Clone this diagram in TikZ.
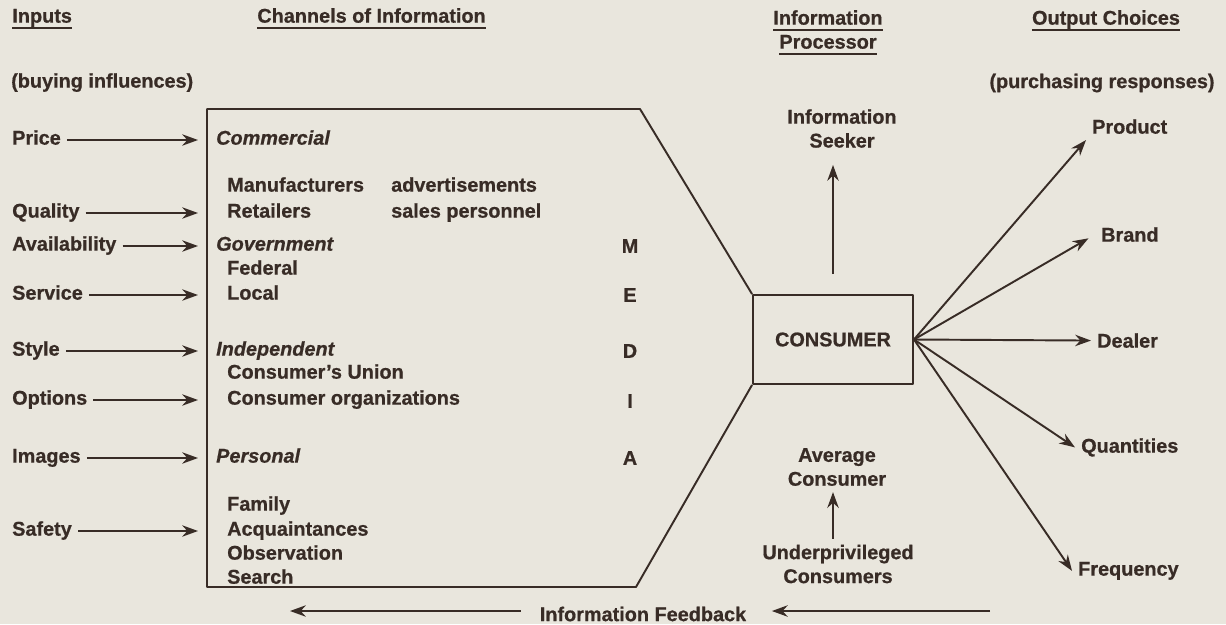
\documentclass[tikz,border=0pt]{standalone}
\usepackage{fontspec}
\setmainfont{Liberation Sans}[BoldFeatures={FakeBold=0.7},BoldItalicFeatures={FakeBold=0.7}]
\usepackage{tikz}
\usetikzlibrary{arrows.meta,positioning,calc}
\definecolor{ink}{RGB}{56,44,38}
\definecolor{paper}{RGB}{233,230,221}
\newcommand\diagfont{\fontsize{11.3}{13.6}\selectfont\bfseries}

\begin{document}
\begin{tikzpicture}[x=0.2mm,y=-0.2mm,line join=round,
    every node/.style={text=ink,font=\diagfont},
    lab/.style={anchor=mid west},
    sect/.style={anchor=mid west,font=\diagfont\itshape},
    hdr/.style={anchor=mid west,inner xsep=0pt},
    feed/.style={draw=ink,line width=1.1pt,-{Stealth[length=9pt,width=6.5pt]}},
    frame/.style={draw=ink,line width=1.1pt},
    uline/.style={draw=ink,line width=1.2pt}]
  \fill[paper] (0,0) rectangle (1226,624);
  \useasboundingbox (0,0) rectangle (1226,624);

  % column headings
  \node[hdr] (h-in) at (12,18) {Inputs};
  \node[hdr] (h-chan) at (257,18) {Channels of Information};
  \node[hdr,anchor=mid] (h-proc1) at (828,20) {Information};
  \node[hdr,anchor=mid] (h-proc2) at (828,44) {Processor};
  \node[hdr,anchor=mid] (h-out) at (1106,20) {Output Choices};
  \foreach \h in {h-in,h-chan,h-proc1,h-proc2,h-out}
    \draw[uline] ([yshift=-2.8pt]\h.base west) -- ([yshift=-2.8pt]\h.base east);
  \node[lab] (buying) at (5,83) {(buying influences)};
  \node (purch) at (1102,83) {(purchasing responses)};

  % channels of information
  \coordinate (fun-tl) at (207,109);
  \coordinate (fun-tr) at (640,109);
  \coordinate (fun-br) at (636,587);
  \coordinate (fun-bl) at (207,587);
  \coordinate (tipcol) at (198,0);
  \node[frame,minimum width=32mm,minimum height=17.8mm] (consumer) at (833,339.5) {CONSUMER};
  \draw[frame] (consumer.north west) -- (fun-tr) -- (fun-tl) -- (fun-bl) -- (fun-br) -- (consumer.south west);

  \node[sect] (commercial) at (210,140) {Commercial};
  \node[lab] (manuf) at (221,187) {Manufacturers};
  \node[lab] (advert) at (385,187) {advertisements};
  \node[lab] (retail) at (221,213) {Retailers};
  \node[lab] (sales) at (385,213) {sales personnel};
  \node[sect] (govt) at (210,246) {Government};
  \node[lab] (federal) at (221,270) {Federal};
  \node[lab] (local) at (221,295) {Local};
  \node[sect] (indep) at (210,351) {Independent};
  \node[lab] (cunion) at (221,374) {Consumer’s Union};
  \node[lab] (corgs) at (221,400) {Consumer organizations};
  \node[sect] (personal) at (210,458) {Personal};
  \foreach \n/\y in {Family/506,Acquaintances/531,Observation/555,Search/579}
    \node[lab] (p-\n) at (221,\y) {\n};
  \foreach \l/\y in {M/246,E/295,D/351,I/401,A/458}
    \node (media-\l) at (630,\y) {\l};

  % inputs
  \foreach \n/\y in {Price/140,Quality/213,Availability/246,Service/295,Style/351,Options/400,Images/458,Safety/531}{
    \node[lab] (in-\n) at (6,\y) {\n};
    \draw[feed] (in-\n.mid east) -- (in-\n.mid east -| tipcol);
  }

  % information processor
  \node[align=center] (seeker) at (842,128.5) {Information\\Seeker};
  \draw[feed,shorten <=4mm,shorten >=2.2mm] (consumer.north) -- (consumer.north |- seeker.south);
  \node[align=center] (avg) at (837,467) {Average\\Consumer};
  \node[align=center] (under) at (838,564) {Underprivileged\\Consumers};
  \draw[feed] (under.north -| consumer) -- (avg.south -| consumer);

  % output choices
  \node[lab] (product) at (1086,129) {Product};
  \node[lab] (brand) at (1095,237) {Brand};
  \node[lab] (dealer) at (1091,343) {Dealer};
  \node[lab] (quant) at (1075,448) {Quantities};
  \node[lab] (freq) at (1072,571) {Frequency};
  \draw[feed] (consumer.east) -- (product.south west);
  \draw[feed,shorten >=1.5mm] (consumer.east) -- (brand.west);
  \foreach \t in {dealer,quant,freq}
    \draw[feed] (consumer.east) -- (\t.west);

  % feedback
  \node (fb) at (643,614) {Information Feedback};
  \coordinate (fb-r) at (990,611);
  \coordinate (fb-l) at (290,611);
  \draw[feed,shorten >=3.9mm] (fb-r) -- (fb-r -| fb.east);
  \draw[feed,shorten <=2.6mm] (fb-l -| fb.west) -- (fb-l);
\end{tikzpicture}
\end{document}
